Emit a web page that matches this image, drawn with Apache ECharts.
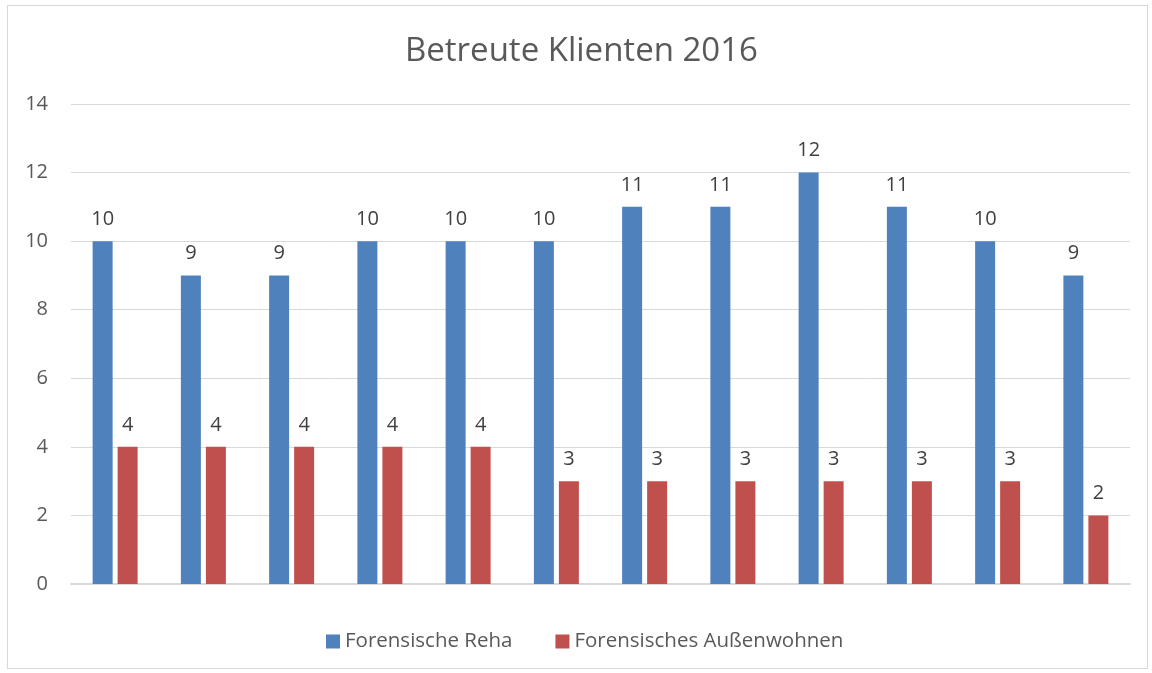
<!DOCTYPE html>
<html>
<head>
<meta charset="utf-8">
<script src="https://cdn.jsdelivr.net/npm/echarts@6/dist/echarts.min.js"></script>
<style>
  html, body { margin: 0; padding: 0; background: #fff; }
  #frame { position: absolute; left: 7px; top: 5px; width: 1141px; height: 664px; border: 1px solid #d9d9d9; box-sizing: border-box; }
  #chart { width: 1152px; height: 673px; position: absolute; left: 0; top: 0; }
</style>
</head>
<body>
<div id="frame"></div>
<div id="chart"></div>
<script>
// Monate (keine Achsenbeschriftung im Original)
const months = ['Jan', 'Feb', 'Mär', 'Apr', 'Mai', 'Jun', 'Jul', 'Aug', 'Sep', 'Okt', 'Nov', 'Dez'];
const reha = [10, 9, 9, 10, 10, 10, 11, 11, 12, 11, 10, 9];
const aussen = [4, 4, 4, 4, 4, 3, 3, 3, 3, 3, 3, 2];
const seriesNames = ['Forensische Reha', 'Forensisches Außenwohnen'];

const chart = echarts.init(document.getElementById('chart'));
const font = '"Open Sans", sans-serif';

const labelStyle = {
  show: true,
  position: 'top',
  distance: 12,
  color: '#404040',
  fontSize: 20,
  fontFamily: font
};

chart.setOption({
  animation: false,
  title: {
    text: 'Betreute Klienten 2016',
    left: 405,
    top: 35,
    padding: 0,
    textStyle: { color: '#595959', fontSize: 33, fontWeight: 'normal', fontFamily: font }
  },
  legend: {
    data: seriesNames,
    top: 631,
    left: 326,
    padding: 0,
    itemWidth: 14,
    itemHeight: 14,
    itemGap: 43,
    icon: 'rect',
    textStyle: { color: '#595959', fontSize: 20.5, fontFamily: font }
  },
  grid: { left: 71, right: 22, top: 104, bottom: 89, containLabel: false },
  xAxis: {
    type: 'category',
    data: months,
    axisLabel: { show: false },
    axisTick: { show: false },
    axisLine: { lineStyle: { color: '#d9d9d9', width: 2 } }
  },
  yAxis: {
    type: 'value',
    min: 0,
    max: 14,
    interval: 2,
    axisLine: { show: false },
    axisTick: { show: false },
    axisLabel: { color: '#595959', fontSize: 20, fontFamily: font, margin: 23 },
    splitLine: { lineStyle: { color: '#d9d9d9', width: 1 } }
  },
  series: [
    {
      name: seriesNames[0],
      type: 'bar',
      data: reha,
      barWidth: 20,
      barGap: '25%',
      itemStyle: { color: '#4f81bd' },
      label: labelStyle
    },
    {
      name: seriesNames[1],
      type: 'bar',
      data: aussen,
      barWidth: 20,
      itemStyle: { color: '#c0504d' },
      label: labelStyle
    }
  ]
});
</script>
</body>
</html>
